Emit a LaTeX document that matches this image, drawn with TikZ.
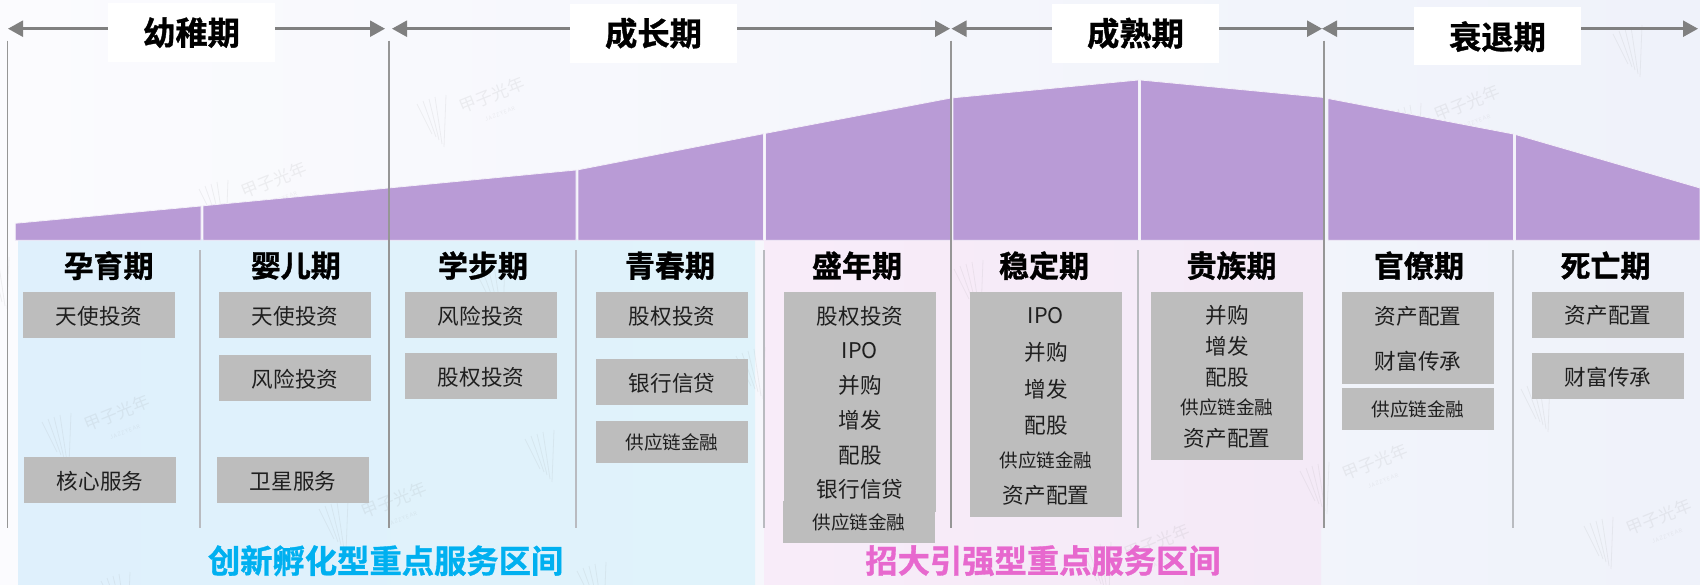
\documentclass[tikz,border=0pt]{standalone}
\usepackage{fontspec}
\setmainfont{Noto Sans CJK SC}
\newfontfamily\heavy[FakeBold=1.1]{Noto Sans CJK SC Bold}
\usetikzlibrary{arrows.meta}
\definecolor{bgL}{HTML}{FBFBFE}
\definecolor{bgR}{HTML}{EFF2FA}
\definecolor{blueL}{HTML}{DFF0FC}
\definecolor{blueR}{HTML}{E0F3FB}
\definecolor{pinkL}{HTML}{F8ECF9}
\definecolor{pinkR}{HTML}{F4EAF7}
\definecolor{mountain}{HTML}{B99BD6}
\definecolor{grayb}{HTML}{BDBDBD}
\definecolor{arrowg}{HTML}{808080}
\definecolor{major}{HTML}{969696}
\definecolor{minor}{HTML}{B9BBC0}
\definecolor{cyantxt}{HTML}{00B0F0}
\definecolor{pinktxt}{HTML}{E768CE}
\tikzset{
  x=1pt,y=-1pt,
  grayrect/.style={fill=grayb,draw=none,inner sep=0,outer sep=0},
  whitebox/.style={fill=white,draw=none,inner sep=0,outer sep=0,minimum width=167pt,minimum height=58.5pt},
  phase/.style={inner sep=0,font=\fontsize{32.3}{33}\heavy,text=black},
  stagetitle/.style={inner sep=0,font=\fontsize{30}{31}\heavy,text=black},
  lb/.style={inner sep=0,yshift=-1pt,font=\fontsize{21.6}{22}\selectfont,text=black!88},
  lbs/.style={inner sep=0,yshift=-1pt,font=\fontsize{18.6}{19}\selectfont,text=black!88},
  zone/.style={inner sep=0,font=\fontsize{32.3}{33}\heavy},
  span/.style={draw=arrowg,line width=2.4pt,{Triangle[length=15pt,width=16pt]}-{Triangle[length=15pt,width=16pt]}},
  majorline/.style={draw=major,line width=1.5pt},
  minorline/.style={draw=minor,line width=1.2pt},
  wmline/.style={draw=gray,line width=.8pt,opacity=.10},
  wmtext/.style={inner sep=0,text=gray,text opacity=.11,rotate=22},
}
\newcommand\gb[5]{%
  \pgfmathsetmacro\bw{#4-#2}\pgfmathsetmacro\bh{#5-#3}%
  \node[grayrect,minimum width=\bw pt,minimum height=\bh pt] (#1) at ({(#2+#4)/2},{(#3+#5)/2}) {};}
\newcommand\wmlines[2]{%
  \begin{scope}[shift={(#1,#2)}]
    \draw[wmline] (-15,-16) -- (0,14);
    \draw[wmline] (-9,-19) -- (4,17);
    \draw[wmline] (-3,-21) -- (7,20);
    \draw[wmline] (3,-23) -- (10,24);
    \draw[wmline] (14,-25) -- (12,27);
  \end{scope}}
\newcommand\wm[2]{%
  \wmlines{#1}{#2}%
  \begin{scope}[shift={(#1,#2)}]
    \node[wmtext,font=\fontsize{17}{17}\selectfont] at (60,-25) {甲子光年};
    \node[wmtext,font=\fontsize{5.5}{6}\selectfont] at (68,-6) {J\,A\,Z\,Z\,Y\,E\,A\,R};
  \end{scope}}
\begin{document}
\begin{tikzpicture}
\useasboundingbox (0,0) rectangle (1700,585);
\shade[left color=bgL,right color=bgR] (0,0) rectangle (1700,585);
\shade[left color=blueL,right color=blueR] (18,240) rectangle (755,585);
\shade[left color=pinkL,right color=pinkR] (764,240) -- (1324,240) -- (1324,528) -- (1321,528) -- (1321,585) -- (764,585) -- cycle;
% watermarks
\foreach \a/\b in {432/120,214/205,57/438,334/525,1315/487,1599/542,1407/128,1097/567}{\wm{\a}{\b}}
\foreach \a/\b in {-5/282,491/288,116/597,540/455,592/587,751/372,969/285,1536/405,1628/50}{\wmlines{\a}{\b}}
% mountain
\fill[mountain,draw=white!85!mountain,line width=.8pt] (15.3,240.3) -- (15.3,223.3) -- (201,206) -- (201,240.3) -- cycle;
\fill[mountain,draw=white!85!mountain,line width=.8pt] (203,240.3) -- (203,205.8) -- (576,170) -- (576,240.3) -- cycle;
\fill[mountain,draw=white!85!mountain,line width=.8pt] (578,240.3) -- (578,169.8) -- (763.5,133.7) -- (763.5,240.3) -- cycle;
\fill[mountain,draw=white!85!mountain,line width=.8pt] (765.5,240.3) -- (765.5,133.3) -- (951,98) -- (951,240.3) -- cycle;
\fill[mountain,draw=white!85!mountain,line width=.8pt] (953,240.3) -- (953,97.8) -- (1138.5,80) -- (1138.5,240.3) -- cycle;
\fill[mountain,draw=white!85!mountain,line width=.8pt] (1140.5,240.3) -- (1140.5,80) -- (1324,97.5) -- (1324,240.3) -- cycle;
\fill[mountain,draw=white!85!mountain,line width=.8pt] (1328,240.3) -- (1328,98.5) -- (1513.5,134) -- (1513.5,240.3) -- cycle;
\fill[mountain,draw=white!85!mountain,line width=.8pt] (1515.5,240.3) -- (1515.5,134.5) -- (1700,188) -- (1700,240.3) -- cycle;
% dividers
\coordinate (majA) at (7.3,40.7); \coordinate (majAe) at (7.3,528.3);
\coordinate (majB) at (389,40.7); \coordinate (majBe) at (389,528.3);
\coordinate (majC) at (951,40.7); \coordinate (majCe) at (951,528.3);
\coordinate (majD) at (1324,40.7); \coordinate (majDe) at (1324,528.3);
\draw[majorline] (majA) -- (majAe);
\draw[majorline] (majB) -- (majBe);
\draw[majorline] (majC) -- (majCe);
\draw[majorline] (majD) -- (majDe);
\foreach \c in {200,576,764,1138,1513}{\draw[minorline] (\c,250.3) -- (\c,528.3);}
% span arrows
\coordinate (sA) at (8,28.7); \coordinate (eA) at (385,28.7);
\coordinate (sB) at (392,28.7); \coordinate (eB) at (950,28.7);
\coordinate (sC) at (951.5,28.7); \coordinate (eC) at (1322,28.7);
\coordinate (sD) at (1322,28.7); \coordinate (eD) at (1698,28.7);
\draw[span] (sA) -- (eA);
\draw[span] (sB) -- (eB);
\draw[span] (sC) -- (eC);
\draw[span] (sD) -- (eD);
% phase boxes
\node[whitebox] (wA) at (191.5,32.7) {};
\node[whitebox] (wB) at (653.5,33.3) {};
\node[whitebox] (wC) at (1135.5,33.3) {};
\node[whitebox] (wD) at (1497.5,35.8) {};
\node[phase] (pA) at (wA.center) {幼稚期};
\node[phase] (pB) at (wB.center) {成长期};
\node[phase] (pC) at (wC.center) {成熟期};
\node[phase] (pD) at (1497.5,36.7) {衰退期};
% stage titles
\node[stagetitle] (st1) at (108.7,265.7) {孕育期};
\node[stagetitle] (st2) at (295.8,265.7) {婴儿期};
\node[stagetitle] (st3) at (483,265.7) {学步期};
\node[stagetitle] (st4) at (670,265.7) {青春期};
\node[stagetitle] (st5) at (857,265.7) {盛年期};
\node[stagetitle] (st6) at (1044,265.7) {稳定期};
\node[stagetitle] (st7) at (1231.6,265.7) {贵族期};
\node[stagetitle] (st8) at (1419,265.7) {官僚期};
\node[stagetitle] (st9) at (1605.5,265.7) {死亡期};
% gray boxes
\gb{b1}{23}{292}{175}{337.7}
\gb{b2}{24}{457}{176}{503}
\gb{b3}{219}{292}{371}{337.7}
\gb{b4}{219}{355}{371}{401}
\gb{b5}{217}{457}{369}{503}
\gb{b6}{405}{292}{557}{337.7}
\gb{b7}{405}{353}{557}{399}
\gb{b8}{596}{292}{748}{337.7}
\gb{b9}{596}{359}{748}{405}
\gb{b10}{596}{421}{748}{462.7}
\gb{b11}{784}{292}{936}{511.7}
\gb{b12}{783}{501}{935}{542.7}
\gb{b13}{970}{292}{1122}{516.7}
\gb{b14}{1151}{292}{1303}{459.7}
\gb{b15}{1342}{292}{1494}{383.7}
\gb{b16}{1342}{388}{1494}{429.7}
\gb{b17}{1532}{292}{1684}{337.7}
\gb{b18}{1532}{353}{1684}{399}
% labels
\node[lb] (l1) at (b1.center) {天使投资};
\node[lb] (l2) at (b2.center) {核心服务};
\node[lb] (l3) at (b3.center) {天使投资};
\node[lb] (l4) at (b4.center) {风险投资};
\node[lb] (l5) at (b5.center) {卫星服务};
\node[lb] (l6) at (b6.center) {风险投资};
\node[lb] (l7) at (b7.center) {股权投资};
\node[lb] (l8) at (b8.center) {股权投资};
\node[lb] (l9) at (b9.center) {银行信贷};
\node[lbs] (l10) at (b10.center) {供应链金融};
\node[lb] (m1) at (860,315) {股权投资};
\node[lb] (m2) at (860,350) {IPO};
\node[lb] (m3) at (860,384.7) {并购};
\node[lb] (m4) at (860,419.3) {增发};
\node[lb] (m5) at (860,454.7) {配股};
\node[lb] (m6) at (860,488.3) {银行信贷};
\node[lbs] (m7) at (b12.center) {供应链金融};
\node[lb] (n1) at (1046,314.7) {IPO};
\node[lb] (n2) at (1046,351.3) {并购};
\node[lb] (n3) at (1046,388) {增发};
\node[lb] (n4) at (1046,424.3) {配股};
\node[lbs] (n5) at (1046,459.7) {供应链金融};
\node[lb] (n6) at (1046,494.3) {资产配置};
\node[lb,font=\fontsize{21.6}{22}\selectfont] (o1) at (1227,314) {并购};
\node[lb,font=\fontsize{21.6}{22}\selectfont] (o2) at (1227,345.7) {增发};
\node[lb,font=\fontsize{21.6}{22}\selectfont] (o3) at (1227,377) {配股};
\node[lbs] (o4) at (1227,406.7) {供应链金融};
\node[lb] (o5) at (1227,437.3) {资产配置};
\node[lb] (q1) at (1418,315.3) {资产配置};
\node[lb] (q2) at (1418,360.3) {财富传承};
\node[lbs] (q3) at (b16.center) {供应链金融};
\node[lb] (r1) at (b17.center) {资产配置};
\node[lb] (r2) at (b18.center) {财富传承};
% zone titles
\node[zone,text=cyantxt] (z1) at (385.6,560.7) {创新孵化型重点服务区间};
\node[zone,text=pinktxt] (z2) at (1043,560.7) {招大引强型重点服务区间};
\end{tikzpicture}
\end{document}
